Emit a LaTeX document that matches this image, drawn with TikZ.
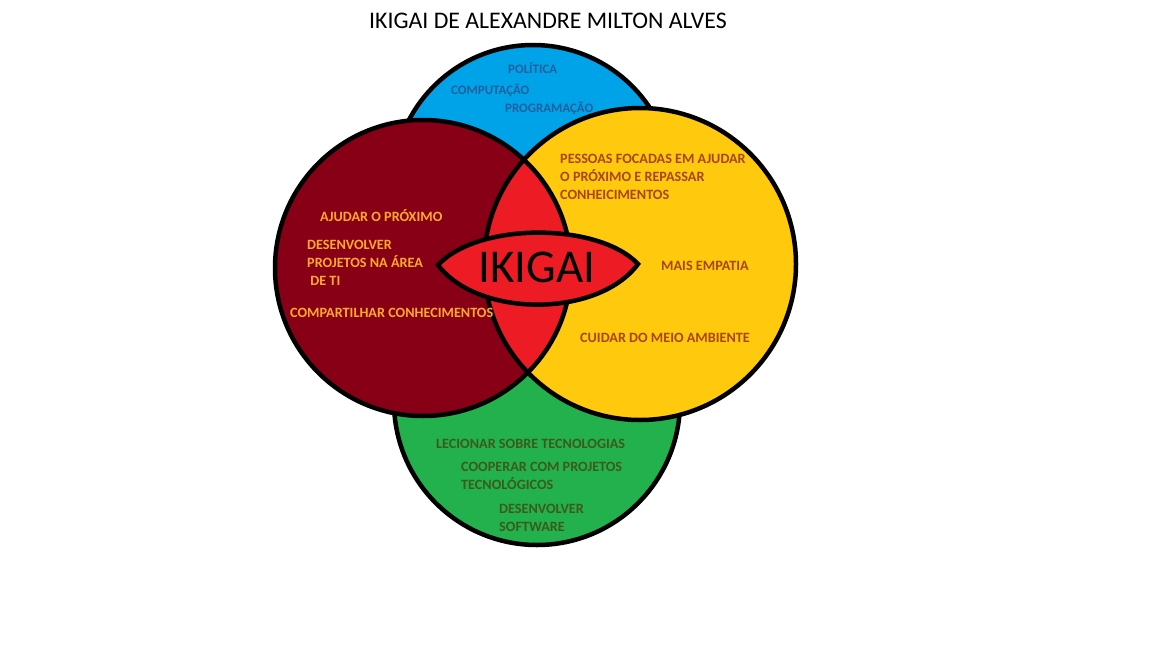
\documentclass[tikz,border=0pt]{standalone}
\usepackage{fontspec}
\setmainfont{Carlito}
\definecolor{cblue}{HTML}{00A2E8}
\definecolor{cgreen}{HTML}{22B14C}
\definecolor{cdred}{HTML}{880015}
\definecolor{cred}{HTML}{ED1C24}
\definecolor{cyellow}{HTML}{FFC90E}
\definecolor{tblue}{HTML}{22609E}
\definecolor{tgold}{HTML}{FFAA2A}
\definecolor{tbrown}{HTML}{A8450C}
\definecolor{tgreen}{HTML}{3C5A1C}
\begin{document}
\begin{tikzpicture}[x=1pt,y=-1pt,
  outline/.style={line width=4.5pt,draw=black},
  lbl/.style={anchor=west,inner sep=0pt,font=\fontsize{14.2}{18}\selectfont\bfseries,align=left},
  lblblue/.style={lbl,text=tblue,font=\fontsize{12.9}{18}\selectfont\bfseries},
  lblgold/.style={lbl,text=tgold},
  lblbrown/.style={lbl,text=tbrown},
  lblgreen/.style={lbl,text=tgreen}]
\useasboundingbox[fill=white] (0,0) rectangle (1152,648);
% circles
\fill[cblue] (533,185) circle[radius=140];
\draw[outline] (533,185) circle[radius=140];
\fill[cgreen] (537,402) circle[radius=143];
\draw[outline] (537,402) circle[radius=143];
\fill[cdred] (423,268) circle[radius=148];
\fill[cyellow] (640,264) circle[radius=156];
\begin{scope}
  \clip (423,268) circle[radius=148];
  \fill[cred] (640,264) circle[radius=156];
\end{scope}
\draw[outline] (423,268) circle[radius=148];
\draw[outline] (640,264) circle[radius=156];
% eye
\coordinate (eyeL) at (438,265);
\coordinate (eyeR) at (638,264);
\draw[outline,fill=cred] (eyeL) .. controls (478,222) and (598,222) .. (eyeR)
  .. controls (598,318) and (478,318) .. (eyeL) -- cycle;
\node[inner sep=0pt,font=\fontsize{47}{47}\selectfont] (ikigai) at (537,267) {IKIGAI};
% title
\node[inner sep=0pt,font=\fontsize{23.8}{28}\selectfont] (title) at (548,21) {IKIGAI DE ALEXANDRE MILTON ALVES};
% blue
\node[lblblue] (b1) at (508,68) {POLÍTICA};
\node[lblblue] (b2) at (451,90) {COMPUTAÇÃO};
\node[lblblue] (b3) at (505,108) {PROGRAMAÇÃO};
% dark red
\node[lblgold] (r1) at (320,216) {AJUDAR O PRÓXIMO};
\node[lblgold] (r2) at (307,263) {DESENVOLVER\\PROJETOS NA ÁREA\\\ DE TI};
\node[lblgold] (r3) at (290,313) {COMPARTILHAR CONHECIMENTOS};
% yellow
\node[lblbrown] (y1) at (560,177) {PESSOAS FOCADAS EM AJUDAR\\O PRÓXIMO E REPASSAR\\CONHEICIMENTOS};
\node[lblbrown] (y2) at (661,266) {MAIS EMPATIA};
\node[lblbrown] (y3) at (580,338) {CUIDAR DO MEIO AMBIENTE};
% green
\node[lblgreen] (g1) at (436,444) {LECIONAR SOBRE TECNOLOGIAS};
\node[lblgreen] (g2) at (461,476) {COOPERAR COM PROJETOS\\TECNOLÓGICOS};
\node[lblgreen] (g3) at (499,518) {DESENVOLVER\\SOFTWARE};
\end{tikzpicture}
\end{document}
